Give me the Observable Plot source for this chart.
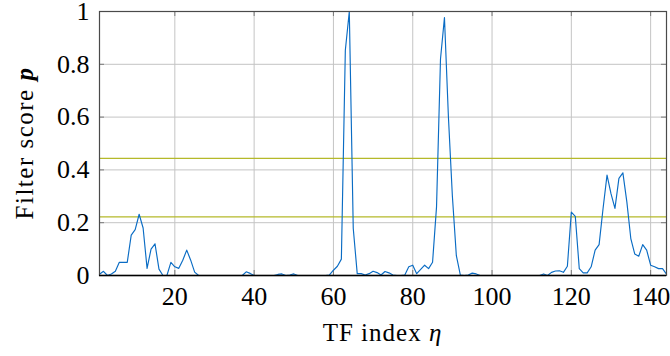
<!DOCTYPE html>
<html>
<head>
<meta charset="utf-8">
<script src="https://cdn.jsdelivr.net/npm/d3@7"></script>
<script src="https://cdn.jsdelivr.net/npm/@observablehq/plot@0.6"></script>
<style>
  html, body { margin: 0; padding: 0; background: #fff; }
  #chart svg { display: block; }
  #chart svg text, #chart svg tspan { font-family: 'Liberation Serif', 'DejaVu Serif', serif !important; font-variant: normal !important; }
</style>
</head>
<body>
<div id="chart"></div>
<script>
// TF index values eta = 1..144 and filter scores p
const scores = [
  0.005, 0.016, 0.0, 0.006, 0.016, 0.05, 0.05, 0.05, 0.153, 0.174,
  0.232, 0.18, 0.027, 0.10, 0.12, 0.024, 0.0, 0.0, 0.05, 0.033,
  0.027, 0.058, 0.096, 0.058, 0.013, 0.0, 0.0, 0.0, 0.0, 0.0,
  0.0, 0.0, 0.0, 0.0, 0.0, 0.0, 0.0, 0.014, 0.008, 0.0,
  0.0, 0.0, 0.0, 0.0, 0.0, 0.004, 0.006, 0.0, 0.002, 0.006,
  0.0, 0.0, 0.0, 0.0, 0.0, 0.0, 0.0, 0.0, 0.002, 0.02,
  0.035, 0.062, 0.853, 1.0, 0.178, 0.007, 0.007, 0.002, 0.007, 0.016,
  0.011, 0.002, 0.015, 0.01, 0.002, 0.0, 0.0, 0.002, 0.033, 0.039,
  0.007, 0.023, 0.039, 0.026, 0.05, 0.26, 0.82, 0.977, 0.6, 0.3,
  0.075, 0.002, 0.0, 0.002, 0.009, 0.006, 0.0, 0.0, 0.0, 0.0,
  0.0, 0.0, 0.0, 0.0, 0.0, 0.0, 0.0, 0.0, 0.0, 0.0,
  0.0, 0.0, 0.006, 0.0, 0.012, 0.017, 0.018, 0.012, 0.035, 0.24,
  0.224, 0.026, 0.01, 0.01, 0.033, 0.096, 0.117, 0.254, 0.38, 0.31,
  0.254, 0.368, 0.389, 0.279, 0.14, 0.081, 0.073, 0.117, 0.096, 0.039,
  0.033, 0.026, 0.026, 0.005
];
const etaStart = 1;
const thresholds = [0.444, 0.222];
const xTicks = [20, 40, 60, 80, 100, 120, 140];
const xTickLabels = ["20", "40", "60", "80", "100", "120", "140"];
const yTicks = [0, 0.2, 0.4, 0.6, 0.8, 1];
const yTickLabels = ["0", "0.2", "0.4", "0.6", "0.8", "1"];
const xDomain = [1, 144];
const yDomain = [0, 1];

const data = scores.map((p, i) => ({eta: etaStart + i, p}));

const W = 670, H = 356;
const mT = 11, mB = 81, mL = 99, mR = 4;
const innerH = H - mT - mB;
const innerW = W - mL - mR;
const tickLen = 5;
const font = "'Liberation Serif', 'DejaVu Serif', serif";

const plot = Plot.plot({
  width: W,
  height: H,
  marginTop: mT,
  marginBottom: mB,
  marginLeft: mL,
  marginRight: mR,
  style: {fontFamily: font, fontSize: "24px", color: "#000", background: "#fff"},
  x: {domain: xDomain, axis: null},
  y: {domain: yDomain, axis: null},
  marks: [
    Plot.gridX(xTicks, {stroke: "#c4c4c4", strokeOpacity: 1, strokeWidth: 1}),
    Plot.gridY(yTicks.filter(d => d > 0 && d < 1), {stroke: "#c4c4c4", strokeOpacity: 1, strokeWidth: 1}),
    // inward tick marks (bottom, top)
    Plot.tickX(xTicks, {x: d => d, insetTop: innerH - tickLen, stroke: "#7a7a7a"}),
    Plot.tickX(xTicks, {x: d => d, insetBottom: innerH - tickLen, stroke: "#7a7a7a"}),
    // inward tick marks (left, right)
    Plot.tickY(yTicks, {y: d => d, insetRight: innerW - tickLen, stroke: "#7a7a7a"}),
    Plot.tickY(yTicks, {y: d => d, insetLeft: innerW - tickLen, stroke: "#7a7a7a"}),
    Plot.ruleY(thresholds, {stroke: "#b5b92a", strokeWidth: 1.3}),
    Plot.line(data, {x: "eta", y: "p", stroke: "#0a6cc4", strokeWidth: 1.15}),
    Plot.frame({stroke: "#4a4a4a", strokeWidth: 1.2}),
    Plot.ruleY([0], {stroke: "#000", strokeWidth: 1.4}),
    // tick labels as text marks in the margins
    Plot.text(xTicks, {x: d => d, frameAnchor: "bottom", dy: 21, text: (d, i) => xTickLabels[i], fontSize: 26, fill: "#000", textAnchor: "middle", lineAnchor: "middle"}),
    Plot.text(yTicks, {y: d => d, frameAnchor: "left", dx: -10, text: (d, i) => yTickLabels[i], fontSize: 26, fill: "#000", textAnchor: "end", lineAnchor: "middle"})
  ]
});

document.getElementById("chart").appendChild(plot);

const svg = d3.select(plot);

// x-axis title
const xt = svg.append("text")
  .attr("x", mL + innerW / 2)
  .attr("y", 341)
  .attr("text-anchor", "middle")
  .style("font-size", "25px")
  .style("letter-spacing", "1px")
  .attr("fill", "#000");
xt.append("tspan").text("TF index ");
xt.append("tspan").attr("font-style", "italic").text("η");

// y-axis title
const yt = svg.append("text")
  .attr("transform", `translate(33,${mT + innerH / 2}) rotate(-90)`)
  .attr("text-anchor", "middle")
  .style("font-size", "25px")
  .style("letter-spacing", "1.5px")
  .attr("fill", "#000");
yt.append("tspan").text("Filter score ");
yt.append("tspan").attr("font-style", "italic").attr("font-weight", "bold").text("p");
</script>
</body>
</html>
